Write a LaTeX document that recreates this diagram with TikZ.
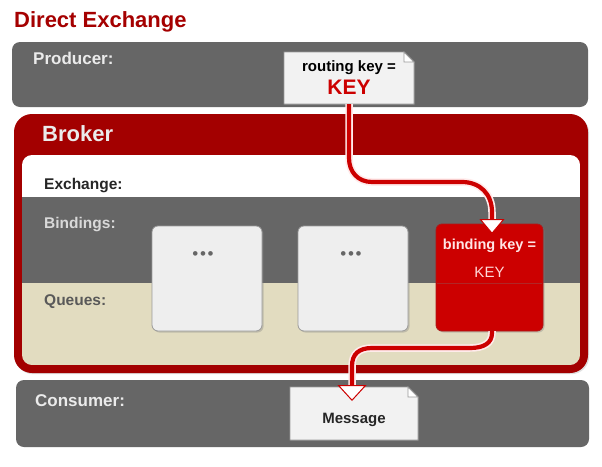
\documentclass[tikz,border=0pt]{standalone}
\usepackage{fontspec}
\setmainfont{Liberation Sans}
\usetikzlibrary{arrows.meta,shadows}
\definecolor{bandgray}{HTML}{666666}
\definecolor{brokred}{HTML}{A30000}
\definecolor{titlered}{HTML}{A50000}
\definecolor{beige}{HTML}{E2DCC0}
\definecolor{notefill}{HTML}{F2F2F2}
\definecolor{notegray}{HTML}{9A9A9A}
\definecolor{qfill}{HTML}{EEEEEE}
\definecolor{bindred}{HTML}{CC0000}
\definecolor{connred}{HTML}{CC0000}
\newcommand\pxsize[1]{\fontsize{#1}{#1}\selectfont}
\newcommand\threedots{\char"2022\hspace{1.6pt}\char"2022\hspace{1.6pt}\char"2022}
\begin{document}
\begin{tikzpicture}[x=1pt,y=-1pt,
  lbl/.style={anchor=base west, inner sep=0pt, font=\bfseries\pxsize{#1}},
  ctr/.style={anchor=base, inner sep=0pt, font=\bfseries\pxsize{#1}},
  notebody/.style={fill=notefill, draw=notegray, line width=0.8pt, drop shadow={shadow xshift=1.2pt, shadow yshift=-1.2pt, opacity=0.35}},
  notefold/.style={fill=white, draw=notegray, line width=0.8pt},
  qbox/.style={fill=qfill, draw=notegray, line width=0.8pt, rounded corners=6pt, minimum width=110pt, minimum height=105pt, inner sep=0pt, drop shadow={shadow xshift=1.5pt, shadow yshift=-1.5pt, opacity=0.35}},
  bbox/.style={fill=bindred, draw=brokred!90, line width=0.8pt, rounded corners=6pt, minimum width=107pt, minimum height=107pt, inner sep=0pt, drop shadow={shadow xshift=1.5pt, shadow yshift=-1.5pt, opacity=0.35}},
  dots/.style={anchor=center, inner sep=0pt, text=black!60, font=\pxsize{17}},
  connhalo/.style={draw=white!92!red, line width=7.5pt},
  conn/.style={draw=connred, line width=4.2pt},
  tipA/.style={-{Triangle[length=15pt,width=25pt,fill=white,line width=1pt]}},
  tipB/.style={-{Triangle[length=16pt,width=29pt,fill=white,line width=1pt]}},
]
\useasboundingbox (0,0) rectangle (602,466);
\fill[white] (0,0) rectangle (602,466);

% title
\node[lbl=22, text=titlered] (title) at (14,27) {Direct Exchange};

% producer band
\fill[bandgray, rounded corners=8pt] (12,42) rectangle (588,107);
\node[lbl=17, text=white!92!black] (prodlbl) at (33,64) {Producer:};
\path[notebody] (284,52) -- (404,52) -- (414,62) -- (414,104) -- (284,104) -- cycle;
\path[notefold] (404,52) -- (404,62) -- (414,62) -- cycle;
\node[ctr=15] (rktxt) at (349,71) {routing key =};
\node[ctr=21, text=bindred] (rkkey) at (349,94) {KEY};
\coordinate (rkbot) at (349,104);

% broker
\fill[brokred, rounded corners=18pt, drop shadow={shadow xshift=1.2pt, shadow yshift=-1.2pt, opacity=0.25}] (14,114) rectangle (588,373);
\node[lbl=22, text=white!92!black] (broklbl) at (42,141) {Broker};
\begin{scope}
  \clip[rounded corners=10pt] (22,155) rectangle (580,365);
  \fill[white] (22,155) rectangle (580,197);
  \fill[bandgray] (22,197) rectangle (580,283);
  \fill[beige] (22,283) rectangle (580,365);
\end{scope}
\node[lbl=15.5, text=black!85] (exlbl) at (44,189) {Exchange:};
\node[lbl=15.5, text=white!85!black] (bdlbl) at (44,228) {Bindings:};
\node[lbl=15.5, text=black!65] (qlbl) at (44,305) {Queues:};

% queues / bindings
\node[qbox] (q1) at (207,278.5) {};
\node[dots] (q1dots) at (203,256) {\threedots};
\node[qbox] (q2) at (353,278.5) {};
\node[dots] (q2dots) at (351,256) {\threedots};
\node[bbox] (rb) at (489.5,277.5) {};
\draw[brokred!85, line width=0.6pt] (437,283) -- (542,283);
\node[ctr=14.5, text=white!90!red] (bktxt) at (489.5,249) {binding key =};
\node[anchor=base, inner sep=0pt, font=\pxsize{15}, text=white!85!red] (bkkey) at (489.5,277) {KEY};

% consumer band
\fill[bandgray, rounded corners=8pt] (16,380) rectangle (589,447);
\node[lbl=17, text=white!92!black] (conslbl) at (35,406) {Consumer:};
\path[notebody] (290,387) -- (408,387) -- (418,397) -- (418,440) -- (290,440) -- cycle;
\path[notefold] (408,387) -- (408,397) -- (418,397) -- cycle;
\node[ctr=15, text=black!85] (msg) at (354,423) {Message};

% connectors
\coordinate (c1halo) at (492,221);
\coordinate (c1end) at (492,234);
\coordinate (rbbot) at (492,331);
\coordinate (c2halo) at (352,386);
\coordinate (c2end) at (352,401);
\path[connhalo] (rkbot) -- (349,158) .. controls (349,172) and (358,182) .. (372,182)
   -- (462,182) .. controls (480,182) and (492,194) .. (492,212) -- (c1halo);
\path[conn,tipA] (rkbot) -- (349,158) .. controls (349,172) and (358,182) .. (372,182)
   -- (462,182) .. controls (480,182) and (492,194) .. (492,212) -- (c1end);
\path[connhalo] (rbbot) -- (492,333) .. controls (492,343) and (484,348) .. (470,348)
   -- (372,348) .. controls (359,348) and (352,354) .. (352,366) -- (c2halo);
\path[conn,tipB] (rbbot) -- (492,333) .. controls (492,343) and (484,348) .. (470,348)
   -- (372,348) .. controls (359,348) and (352,354) .. (352,366) -- (c2end);
\end{tikzpicture}
\end{document}
